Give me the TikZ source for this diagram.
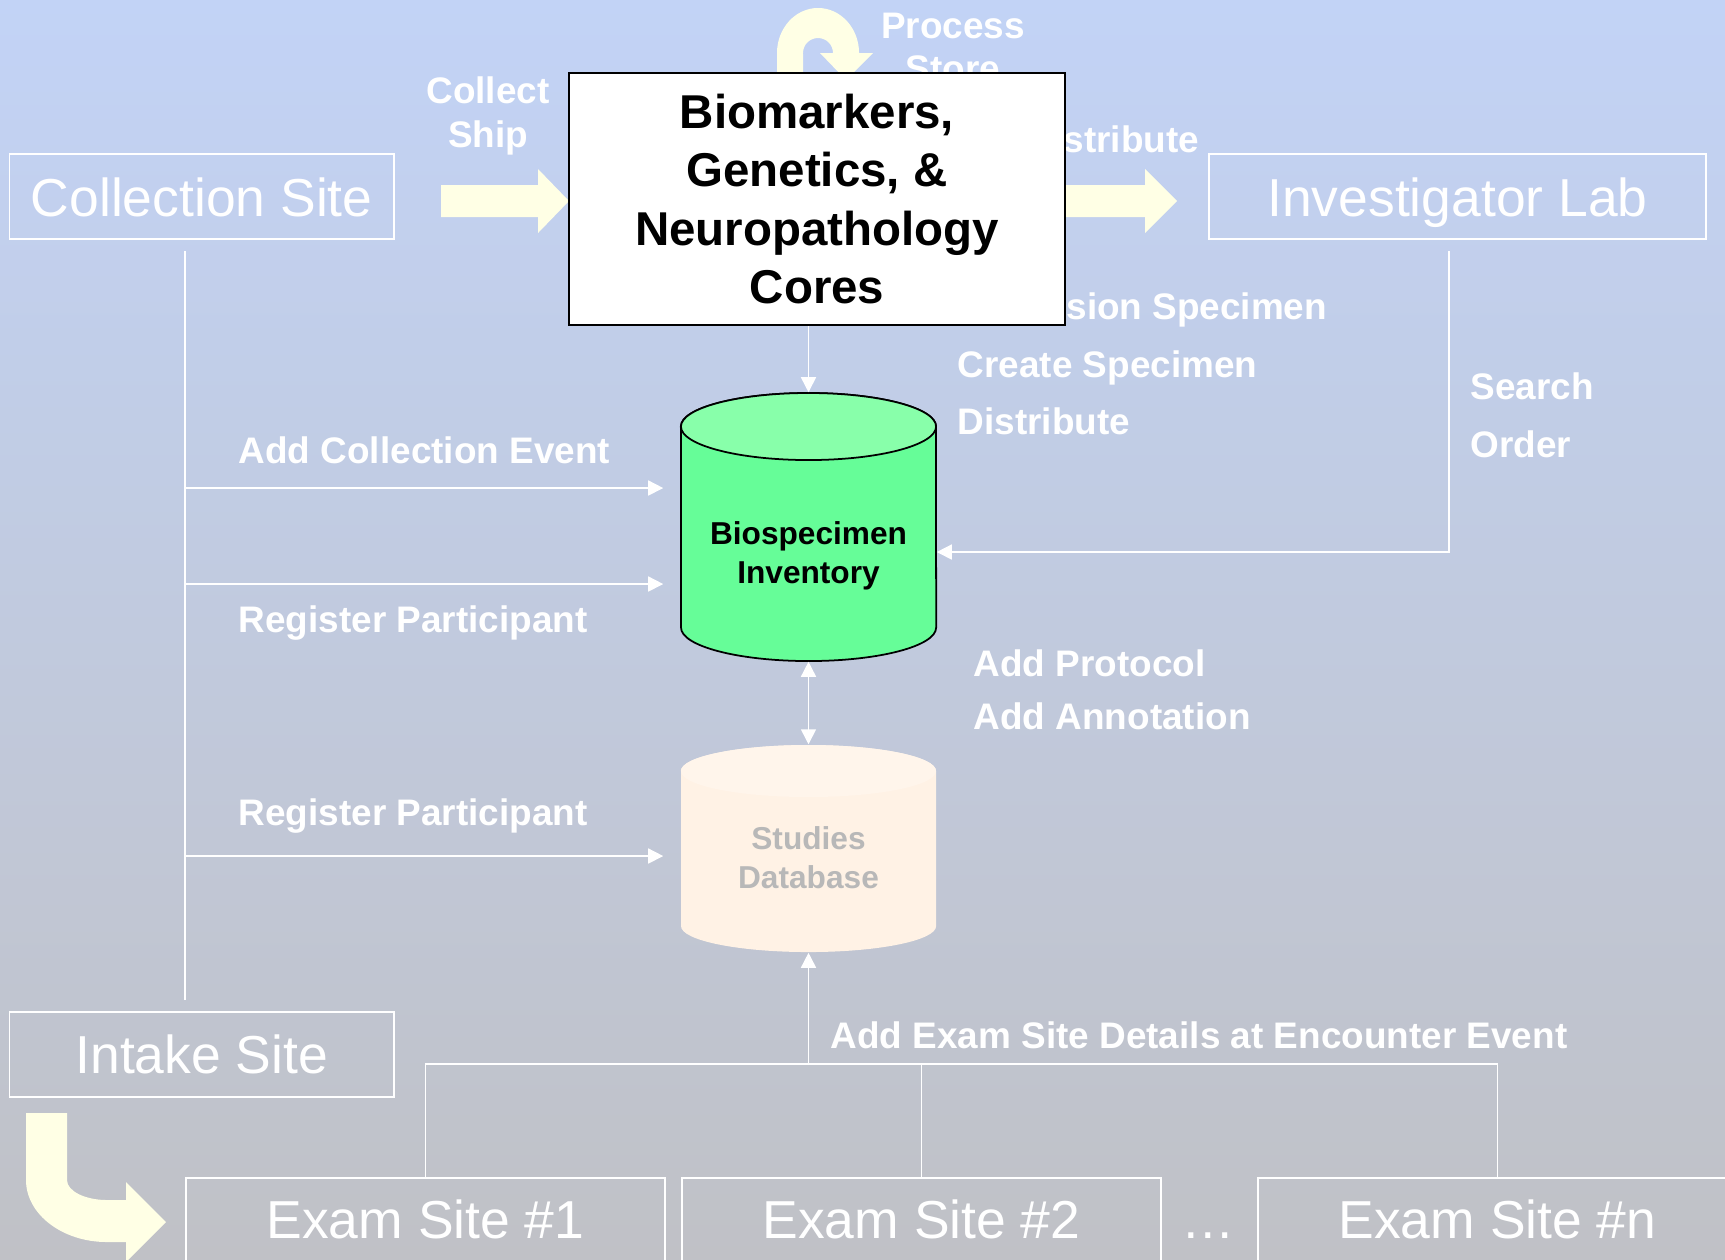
\documentclass[tikz,border=0pt]{standalone}
\usepackage{fontspec}
\setmainfont{Liberation Sans}
\usetikzlibrary{arrows.meta}
\definecolor{bgtop}{RGB}{194,211,246}
\definecolor{bgbot}{RGB}{192,193,198}
\definecolor{cream}{RGB}{255,255,229}
\definecolor{biobody}{RGB}{102,253,152}
\definecolor{biotop}{RGB}{136,255,170}
\definecolor{studybody}{RGB}{255,242,229}
\definecolor{studytop}{RGB}{255,245,235}
\definecolor{studytext}{RGB}{184,184,184}
\tikzset{
  site/.style={draw=white, line width=0.5pt, text=white, inner sep=0pt, anchor=north west,
    font=\fontsize{15.2}{18}\selectfont},
  lbl/.style={text=white, inner sep=0pt, anchor=base west, font=\fontsize{10.5}{12}\selectfont\bfseries},
  wire/.style={draw=white, line width=0.45pt},
  arr/.style={wire, -{Triangle[length=0.15cm,width=0.15cm]}},
  arrs/.style={wire, {Triangle[length=0.15cm,width=0.15cm]}-{Triangle[length=0.15cm,width=0.15cm]}},
  fat/.style={fill=cream, draw=none},
}
\begin{document}
\begin{tikzpicture}[x=0.01cm, y=-0.01cm]
  \useasboundingbox (0,0) rectangle (1725,1259);
  \clip (0,0) rectangle (1725,1259);
  \shade[top color=bgtop, bottom color=bgbot] (0,0) rectangle (1725,1259);
  % texts that the core box covers in part
  \node[lbl] (dist1) at (1026,152) {Distribute};
  \node[lbl, anchor=base] (store) at (953,81) {Store};
  \node[lbl] (acc) at (957,319) {Accession Specimen};
  % fat arrows
  \fill[fat] (777,80) -- (777,53) arc[start angle=180, end angle=0, x radius=0.41cm, y radius=0.45cm]
    -- (873,53) -- (846,80) -- (820,53) -- (833,53)
    arc[start angle=0, end angle=180, radius=0.15cm] -- (803,80) -- cycle;
  \fill[fat] (441,185) -- (538,185) -- (538,169) -- (569,201) -- (538,233) -- (538,217) -- (441,217) -- cycle;
  \fill[fat] (1060,185) -- (1145,185) -- (1145,169) -- (1177,201) -- (1145,233) -- (1145,217) -- (1060,217) -- cycle;
  \fill[fat] (26,1113) -- (67,1113) -- (67,1180) .. controls (67,1191) and (85,1200) .. (107,1200)
    -- (126,1200) -- (126,1182) -- (166,1222) -- (126,1262) -- (126,1242) -- (107,1242)
    .. controls (62,1242) and (26,1214) .. (26,1180) -- cycle;
  % core box
  \node[draw=black, fill=white, line width=0.7pt, minimum width=4.96cm, minimum height=2.52cm,
    align=center, font=\fontsize{13.5}{16.5}\selectfont\bfseries] (core) at (817,199)
    {Biomarkers,\\Genetics, \&\\Neuropathology\\Cores};
  \node[lbl, anchor=base] (process) at (953,38) {Process};
  \node[lbl, anchor=base] (collect) at (488,103) {Collect};
  \node[lbl, anchor=base] (ship) at (488,147) {Ship};
  % sites
  \node[site, minimum width=3.845cm, text height=0.63cm, text depth=0.22cm] (cs) at (8.5,153) {Collection Site};
  \node[site, minimum width=4.97cm, text height=0.63cm, text depth=0.22cm] (lab) at (1208,153) {Investigator Lab};
  \node[site, minimum width=3.845cm, text height=0.62cm, text depth=0.23cm] (intake) at (8.5,1011) {Intake Site};
  \node[site, minimum width=4.79cm, text height=0.61cm, text depth=0.8cm] (ex1) at (185,1177) {Exam Site \#1};
  \node[site, minimum width=4.79cm, text height=0.61cm, text depth=0.8cm] (ex2) at (681,1177) {Exam Site \#2};
  \node[site, minimum width=4.79cm, text height=0.61cm, text depth=0.8cm] (exn) at (1257,1177) {Exam Site \#n};
  \node[text=white, inner sep=0pt, anchor=base, font=\fontsize{15.2}{18}\selectfont] (dots) at (1208,1238) {…};
  % biospecimen inventory
  \node[inner sep=0pt, minimum width=2.55cm, minimum height=2.68cm] (bio) at (808.5,527) {};
  \filldraw[fill=biobody, draw=black, line width=0.5pt] (681,426.5) -- (681,627.5)
    arc[start angle=180, end angle=360, x radius=1.275cm, y radius=0.335cm] -- (936,426.5)
    arc[start angle=0, end angle=180, x radius=1.275cm, y radius=0.335cm] -- cycle;
  \filldraw[fill=biotop, draw=black, line width=0.5pt] (808.5,426.5) ellipse [x radius=1.275cm, y radius=0.335cm];
  \node[align=center, inner sep=0pt, font=\fontsize{9}{11}\selectfont\bfseries] (biotxt) at (808.5,556)
    {Biospecimen\\Inventory};
  % studies database
  \node[inner sep=0pt, minimum width=2.55cm, minimum height=2.07cm] (study) at (808.5,848.5) {};
  \fill[studybody] (681,771) -- (681,926)
    arc[start angle=180, end angle=360, x radius=1.275cm, y radius=0.26cm] -- (936,771)
    arc[start angle=0, end angle=180, x radius=1.275cm, y radius=0.26cm] -- cycle;
  \fill[studytop] (808.5,771) ellipse [x radius=1.275cm, y radius=0.26cm];
  \node[align=center, inner sep=0pt, text=studytext, font=\fontsize{9}{11}\selectfont\bfseries] (studytxt)
    at (808.5,857.5) {Studies\\Database};
  % connectors
  \coordinate (trunk) at (185,600);
  \coordinate (t1) at (185,488);
  \coordinate (t2) at (185,584);
  \coordinate (t3) at (185,856);
  \draw[wire, shorten <=0.11cm, shorten >=0.11cm] (cs.south -| trunk) -- (intake.north -| trunk);
  \draw[arr, shorten >=0.17cm] (t1) -- (t1 -| bio.west);
  \draw[arr, shorten >=0.17cm] (t2) -- (t2 -| bio.west);
  \draw[arr, shorten >=0.17cm] (t3) -- (t3 -| study.west);
  \draw[arr] (bio.north |- core.south) -- (bio.north);
  \draw[arrs] (bio.south) -- (study.north);
  \coordinate (lk) at (1449,552);
  \draw[arr, shorten <=0.11cm] (lab.south -| lk) -- (lk) -- (lk -| bio.east);
  \coordinate (bus) at (808.5,1064);
  \draw[wire] (ex1.north) -- (ex1.north |- bus) -- (exn.north |- bus) -- (exn.north);
  \draw[wire] (ex2.north) -- (ex2.north |- bus);
  \draw[arr] (bus) -- (study.south);
  % labels
  \node[lbl] (ace) at (238,463) {Add Collection Event};
  \node[lbl] (reg1) at (238,632) {Register Participant};
  \node[lbl] (reg2) at (238,825) {Register Participant};
  \node[lbl] (create) at (957,377) {Create Specimen};
  \node[lbl] (dist2) at (957,434) {Distribute};
  \node[lbl] (search) at (1470,399) {Search};
  \node[lbl] (order) at (1470,457) {Order};
  \node[lbl] (proto) at (973,676) {Add Protocol};
  \node[lbl] (annot) at (973,729) {Add Annotation};
  \node[lbl] (exdet) at (830,1048) {Add Exam Site Details at Encounter Event};
\end{tikzpicture}
\end{document}
